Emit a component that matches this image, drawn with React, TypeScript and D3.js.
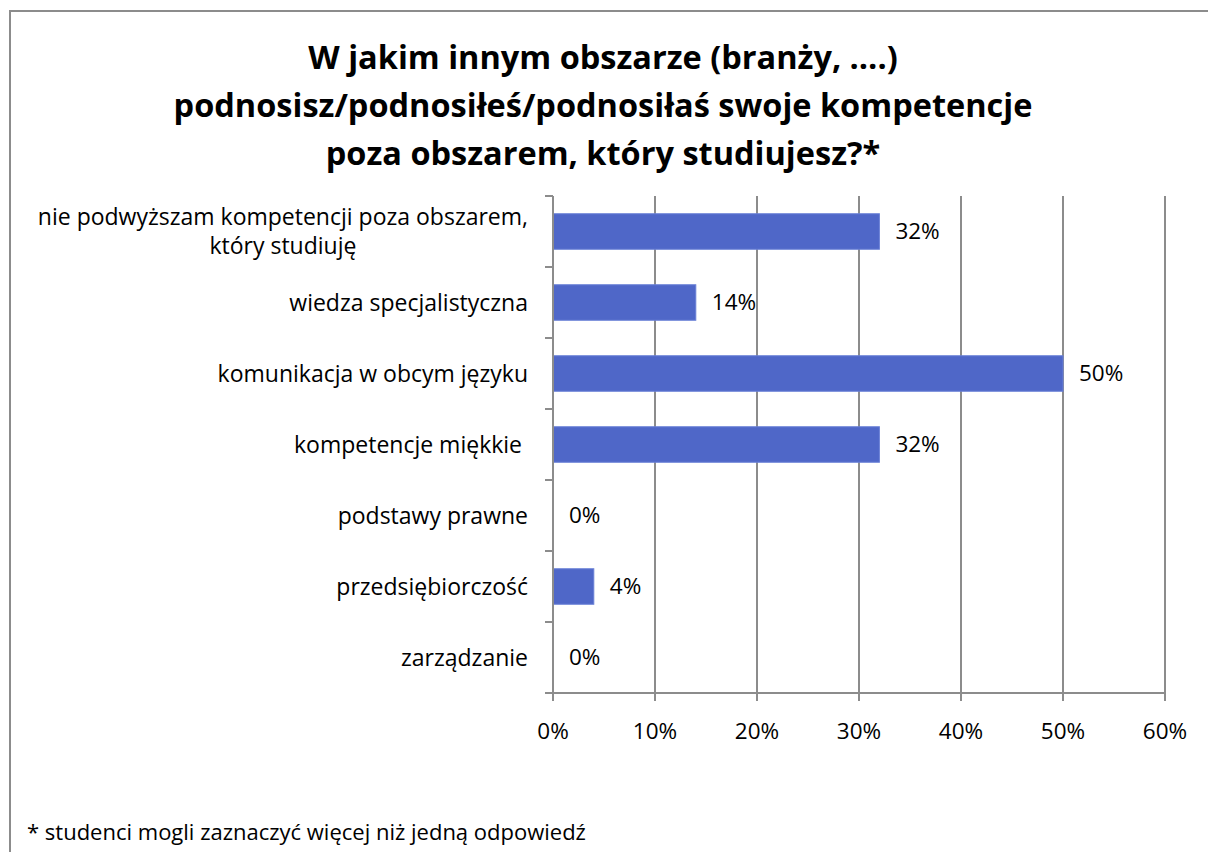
import { useEffect, useRef } from "react";
import * as d3 from "d3";

const categories = [
  ["nie podwyższam kompetencji poza obszarem,", "który studiuję"],
  ["wiedza specjalistyczna"],
  ["komunikacja w obcym języku"],
  ["kompetencje miękkie "],
  ["podstawy prawne"],
  ["przedsiębiorczość"],
  ["zarządzanie"],
];
const values = [32, 14, 50, 32, 0, 4, 0];
const xTicks = [0, 10, 20, 30, 40, 50, 60];
const titleLines = [
  "W jakim innym obszarze (branży, ….)",
  "podnosisz/podnosiłeś/podnosiłaś swoje kompetencje",
  "poza obszarem, który studiujesz?*",
];
const footnote = "* studenci mogli zaznaczyć więcej niż jedną odpowiedź";

const FONT = "'Open Sans', 'Noto Sans', sans-serif";

function App() {
  const svgRef = useRef<SVGSVGElement>(null);

  useEffect(() => {
    const svgElement = svgRef.current;
    if (!svgElement) return;
    document.body.style.margin = "0";

    const W = 1208;
    const H = 852;
    const plot = { left: 553, right: 1165, top: 196, bottom: 693 };

    const svg = d3.select(svgElement).attr("width", W).attr("height", H);

    // chart frame
    svg
      .append("rect")
      .attr("x", 10)
      .attr("y", 11)
      .attr("width", W + 10)
      .attr("height", H + 10)
      .attr("fill", "#fff")
      .attr("stroke", "#8c8c8c")
      .attr("stroke-width", 2);

    // title
    svg
      .append("g")
      .selectAll("text")
      .data(titleLines)
      .enter()
      .append("text")
      .attr("x", 603)
      .attr("y", (_, i) => 69 + i * 48)
      .attr("text-anchor", "middle")
      .style("font-family", FONT)
      .style("font-weight", "bold")
      .style("font-size", "32.5px")
      .style("fill", "#000")
      .text((d) => d);

    const xScale = d3.scaleLinear().domain([0, 60]).range([plot.left, plot.right]);
    const idx = categories.map((_, i) => String(i));
    const yScale = d3
      .scaleBand()
      .domain(idx)
      .range([plot.top, plot.bottom])
      .paddingInner(0.5)
      .paddingOuter(0.25);

    // gridlines
    svg
      .append("g")
      .selectAll("line")
      .data(xTicks.slice(1))
      .enter()
      .append("line")
      .attr("x1", (d) => xScale(d))
      .attr("x2", (d) => xScale(d))
      .attr("y1", plot.top)
      .attr("y2", plot.bottom)
      .attr("stroke", "#8c8c8c")
      .attr("stroke-width", 2);

    // bars
    svg
      .append("g")
      .selectAll("rect")
      .data(values)
      .enter()
      .append("rect")
      .attr("x", xScale(0))
      .attr("y", (_, i) => yScale(String(i)) || 0)
      .attr("width", (d) => xScale(d) - xScale(0))
      .attr("height", yScale.bandwidth())
      .attr("fill", "#4f67c8")
      .attr("stroke", (d) => (d > 0 ? "#6a80d6" : "none"))
      .attr("stroke-width", 1);

    // value labels
    svg
      .append("g")
      .selectAll("text")
      .data(values)
      .enter()
      .append("text")
      .attr("x", (d) => xScale(d) + 16)
      .attr("y", (_, i) => (yScale(String(i)) || 0) + yScale.bandwidth() / 2)
      .attr("dy", ".35em")
      .style("font-family", FONT)
      .style("font-size", "22.5px")
      .style("fill", "#000")
      .text((d) => `${d}%`);

    // y axis line + ticks
    const axisColor = "#8c8c8c";
    svg
      .append("line")
      .attr("x1", plot.left)
      .attr("x2", plot.left)
      .attr("y1", plot.top)
      .attr("y2", plot.bottom)
      .attr("stroke", axisColor)
      .attr("stroke-width", 2);
    const bandStep = yScale.step();
    const yTickPos = d3.range(categories.length + 1).map((i) => plot.top + i * bandStep);
    svg
      .append("g")
      .selectAll("line")
      .data(yTickPos)
      .enter()
      .append("line")
      .attr("x1", plot.left - 8)
      .attr("x2", plot.left)
      .attr("y1", (d) => d)
      .attr("y2", (d) => d)
      .attr("stroke", axisColor)
      .attr("stroke-width", 2);

    // x axis line + ticks
    svg
      .append("line")
      .attr("x1", plot.left - 8)
      .attr("x2", plot.right)
      .attr("y1", plot.bottom)
      .attr("y2", plot.bottom)
      .attr("stroke", axisColor)
      .attr("stroke-width", 2);
    svg
      .append("g")
      .selectAll("line")
      .data(xTicks)
      .enter()
      .append("line")
      .attr("x1", (d) => xScale(d))
      .attr("x2", (d) => xScale(d))
      .attr("y1", plot.bottom)
      .attr("y2", plot.bottom + 8)
      .attr("stroke", axisColor)
      .attr("stroke-width", 2);
    svg
      .append("g")
      .selectAll("text")
      .data(xTicks)
      .enter()
      .append("text")
      .attr("x", (d) => xScale(d))
      .attr("y", 739)
      .attr("text-anchor", "middle")
      .style("font-family", FONT)
      .style("font-size", "22.5px")
      .style("fill", "#000")
      .text((d) => `${d}%`);

    // category labels
    const labelRight = 528;
    categories.forEach((lines, i) => {
      const cy = (yScale(String(i)) || 0) + yScale.bandwidth() / 2;
      const lh = 29;
      const g = svg.append("g");
      const texts = g
        .selectAll("text")
        .data(lines)
        .enter()
        .append("text")
        .attr("y", (_, j) => cy + (j - (lines.length - 1) / 2) * lh)
        .attr("dy", ".35em")
        .style("font-family", FONT)
        .style("font-size", "23px")
        .style("fill", "#000")
        .style("white-space", "pre")
        .text((d) => d);
      if (lines.length === 1) {
        texts.attr("x", labelRight).attr("text-anchor", "end");
      } else {
        let maxW = 0;
        texts.each(function () {
          maxW = Math.max(maxW, (this as SVGTextElement).getComputedTextLength());
        });
        texts.attr("x", labelRight - maxW / 2).attr("text-anchor", "middle");
      }
    });

    // footnote
    svg
      .append("text")
      .attr("x", 27)
      .attr("y", 840)
      .style("font-family", FONT)
      .style("font-size", "22px")
      .style("fill", "#000")
      .text(footnote);

    return () => {
      d3.select(svgElement).selectAll("*").remove();
    };
  }, []);

  return <svg ref={svgRef}></svg>;
}

export default App;
